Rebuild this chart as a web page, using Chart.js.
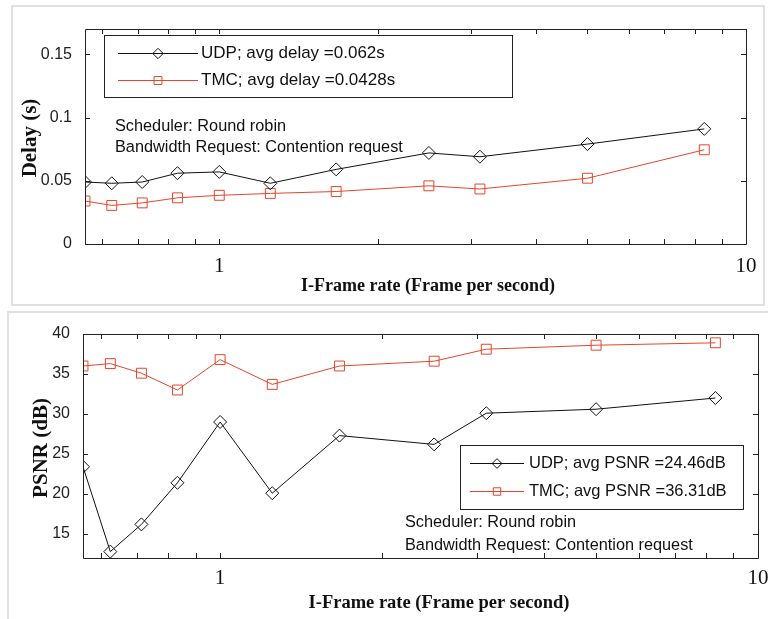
<!DOCTYPE html>
<html>
<head>
<meta charset="utf-8">
<title>I-Frame rate: delay and PSNR</title>
<script src="https://cdn.jsdelivr.net/npm/chart.js@4"></script>
<style>
  body { margin: 0; background: #fff; width: 768px; height: 619px; overflow: hidden; position: relative; }
  .panel { position: absolute; border: 2px solid #e0e0e0; box-sizing: border-box; }
  #delayPanel { left: 11px; top: 5px; width: 754px; height: 301px; }
  #psnrPanel { left: 7px; top: 311px; width: 780px; height: 330px; }
  canvas { position: absolute; left: 0; }
  #delayChart { top: 0; }
  #psnrChart { top: 308px; }
</style>
</head>
<body>
<div class="panel" id="delayPanel"></div>
<div class="panel" id="psnrPanel"></div>
<canvas id="delayChart" width="768" height="308"></canvas>
<canvas id="psnrChart" width="768" height="311"></canvas>
<script>
// I-frame rates (frames per second) used in the runs
const frameRate = [0.556, 0.625, 0.714, 0.833, 1, 1.25, 1.667, 2.5, 3.125, 5, 8.333];

// end-to-end delay (s)
const udpDelay = [0.049, 0.048, 0.049, 0.056, 0.057, 0.048, 0.059, 0.072, 0.069, 0.079, 0.091];
const tmcDelay = [0.034, 0.0305, 0.0325, 0.0365, 0.0385, 0.040, 0.0415, 0.046, 0.0435, 0.052, 0.0745];

// PSNR (dB)
const udpPsnr = [23.4, 12.8, 16.2, 21.4, 29.0, 20.1, 27.3, 26.2, 30.1, 30.6, 32.0];
const tmcPsnr = [36.0, 36.3, 35.1, 33.0, 36.8, 33.7, 36.0, 36.6, 38.1, 38.6, 38.9];

const rateTicks = [0.6, 0.7, 0.8, 0.9, 1, 2, 3, 4, 5, 6, 7, 8, 9, 10];
const rateLabels = [1, 10];
const delayTicks = [0, 0.05, 0.1, 0.15];
const psnrTicks = [15, 20, 25, 30, 35, 40];

const delayLegend = ['UDP; avg delay =0.062s', 'TMC; avg delay =0.0428s'];
const psnrLegend = ['UDP; avg PSNR =24.46dB', 'TMC; avg PSNR =36.31dB'];
const noteLines = ['Scheduler: Round robin', 'Bandwidth Request: Contention request'];
const xTitle = 'I-Frame rate (Frame per second)';

const RED = '#e6452b';
const SANS = "'Liberation Sans', Arial, sans-serif";
const SERIF = "'Liberation Serif', 'Times New Roman', serif";

// box around the plot with inward tick marks on all four sides
const framePlugin = {
  id: 'frame',
  afterDatasetsDraw(chart) {
    const { ctx, chartArea: a, scales: { x, y } } = chart;
    const len = 5;
    ctx.save();
    ctx.strokeStyle = '#222';
    ctx.lineWidth = 1;
    ctx.beginPath();
    ctx.rect(Math.round(a.left) + 0.5, Math.round(a.top) + 0.5,
      Math.round(a.right - a.left), Math.round(a.bottom - a.top));
    x.ticks.forEach(t => {
      const px = Math.round(x.getPixelForValue(t.value)) + 0.5;
      ctx.moveTo(px, a.bottom); ctx.lineTo(px, a.bottom - len);
      ctx.moveTo(px, a.top); ctx.lineTo(px, a.top + len);
    });
    y.ticks.forEach(t => {
      const py = Math.round(y.getPixelForValue(t.value)) + 0.5;
      ctx.moveTo(a.left, py); ctx.lineTo(a.left + len, py);
      ctx.moveTo(a.right, py); ctx.lineTo(a.right - len, py);
    });
    ctx.stroke();
    ctx.restore();
  }
};

// MATLAB-style legend box drawn inside the axes
const boxLegendPlugin = {
  id: 'boxLegend',
  afterDatasetsDraw(chart, args, o) {
    const { ctx } = chart;
    ctx.save();
    ctx.fillStyle = '#fff';
    ctx.fillRect(o.left, o.top, o.right - o.left, o.bottom - o.top);
    ctx.strokeStyle = '#222';
    ctx.lineWidth = 1;
    ctx.strokeRect(o.left + 0.5, o.top + 0.5, o.right - o.left, o.bottom - o.top);
    ctx.font = o.fontSize + 'px ' + SANS;
    ctx.textBaseline = 'middle';
    chart.data.datasets.forEach((ds, i) => {
      const ry = o.rows[i] + 0.5;
      ctx.strokeStyle = ds.borderColor;
      ctx.beginPath();
      ctx.moveTo(o.lineFrom, ry); ctx.lineTo(o.lineTo, ry);
      ctx.stroke();
      ctx.fillStyle = 'rgba(0,0,0,0)';
      Chart.helpers.drawPoint(ctx, {
        pointStyle: ds.pointStyle, radius: ds.pointRadius * o.markerScale,
        rotation: 0, borderWidth: 1
      }, (o.lineFrom + o.lineTo) / 2, ry);
      ctx.fillStyle = '#111';
      ctx.fillText(ds.label, o.textX, ry);
    });
    ctx.restore();
  }
};

// free text in the axes and the two axis titles
const textPlugin = {
  id: 'texts',
  afterDraw(chart, args, o) {
    const { ctx } = chart;
    ctx.save();
    ctx.fillStyle = '#111';
    ctx.textBaseline = 'middle';
    ctx.font = o.noteSize + 'px ' + SANS;
    noteLines.forEach((line, i) => ctx.fillText(line, o.noteX, o.noteY[i]));

    ctx.font = 'bold ' + o.titleSize + 'px ' + SERIF;
    ctx.textAlign = 'center';
    ctx.fillText(xTitle, o.xTitle[0], o.xTitle[1]);
    ctx.translate(o.yTitle[0], o.yTitle[1]);
    ctx.rotate(-Math.PI / 2);
    ctx.font = 'bold ' + o.yTitleSize + 'px ' + SERIF;
    ctx.fillText(o.yText, 0, 0);
    ctx.restore();
  }
};

function series(label, ys, color, style, radius) {
  return {
    label,
    data: frameRate.map((x, i) => ({ x, y: ys[i] })),
    borderColor: color,
    borderWidth: 1,
    pointStyle: style,
    pointRadius: radius,
    pointBorderColor: color,
    pointBackgroundColor: 'rgba(0,0,0,0)',
    pointBorderWidth: 1,
    tension: 0
  };
}

function makeChart(id, p) {
  const canvas = document.getElementById(id);
  return new Chart(canvas.getContext('2d'), {
    type: 'line',
    data: {
      datasets: [
        series(p.legend[0], p.udp, '#111', 'rectRot', 6.5),
        series(p.legend[1], p.tmc, RED, 'rect', 7)
      ]
    },
    options: {
      responsive: false,
      animation: false,
      events: [],
      layout: { padding: { top: p.area.top, right: canvas.width - p.area.right, left: 0, bottom: 0 } },
      scales: {
        x: {
          type: 'logarithmic',
          min: 0.556,
          max: 10,
          grid: { display: false },
          border: { display: false },
          afterBuildTicks: s => { s.ticks = rateTicks.map(v => ({ value: v })); },
          afterFit: s => {
            s.height = canvas.height - p.area.bottom;
            s.paddingLeft = 0; s.paddingRight = 0;
          },
          ticks: {
            autoSkip: false, maxRotation: 0, minRotation: 0,
            padding: p.xPad, color: '#111',
            font: { family: SERIF, size: 21, lineHeight: 1 },
            callback: v => rateLabels.includes(v) ? String(v) : ''
          }
        },
        y: {
          min: p.yMin,
          max: p.yMax,
          grid: { display: false },
          border: { display: false },
          afterBuildTicks: s => { s.ticks = p.yTicks.map(v => ({ value: v })); },
          afterFit: s => {
            s.width = p.area.left;
            s.paddingTop = 0; s.paddingBottom = 0;
          },
          ticks: {
            padding: 5, color: '#222',
            font: { family: SANS, size: 16 },
            callback: v => String(v)
          }
        }
      },
      plugins: {
        legend: { display: false },
        tooltip: { enabled: false },
        boxLegend: p.box,
        texts: p.texts
      }
    },
    plugins: [framePlugin, boxLegendPlugin, textPlugin]
  });
}

makeChart('delayChart', {
  udp: udpDelay, tmc: tmcDelay, legend: delayLegend,
  yMin: 0, yMax: 0.17, yTicks: delayTicks,
  area: { left: 85, right: 746, top: 29, bottom: 244 },
  xPad: 4,
  box: { left: 104, right: 512, top: 35, bottom: 97, rows: [53, 80],
         lineFrom: 118, lineTo: 198, textX: 201, fontSize: 17, markerScale: 0.8 },
  texts: { noteX: 115, noteY: [127, 148], noteSize: 16.3,
           xTitle: [428, 286], titleSize: 18,
           yTitle: [31, 138], yTitleSize: 21, yText: 'Delay (s)' }
});

makeChart('psnrChart', {
  udp: udpPsnr, tmc: tmcPsnr, legend: psnrLegend,
  yMin: 12, yMax: 40, yTicks: psnrTicks,
  area: { left: 83, right: 758, top: 26, bottom: 250 },
  xPad: 2,
  box: { left: 460, right: 743, top: 137, bottom: 201, rows: [155, 183],
         lineFrom: 470, lineTo: 524, textX: 529, fontSize: 16.5, markerScale: 0.75 },
  texts: { noteX: 405, noteY: [215, 238], noteSize: 16.3,
           xTitle: [439, 295], titleSize: 18.5,
           yTitle: [42, 140], yTitleSize: 21, yText: 'PSNR (dB)' }
});
</script>
</body>
</html>
